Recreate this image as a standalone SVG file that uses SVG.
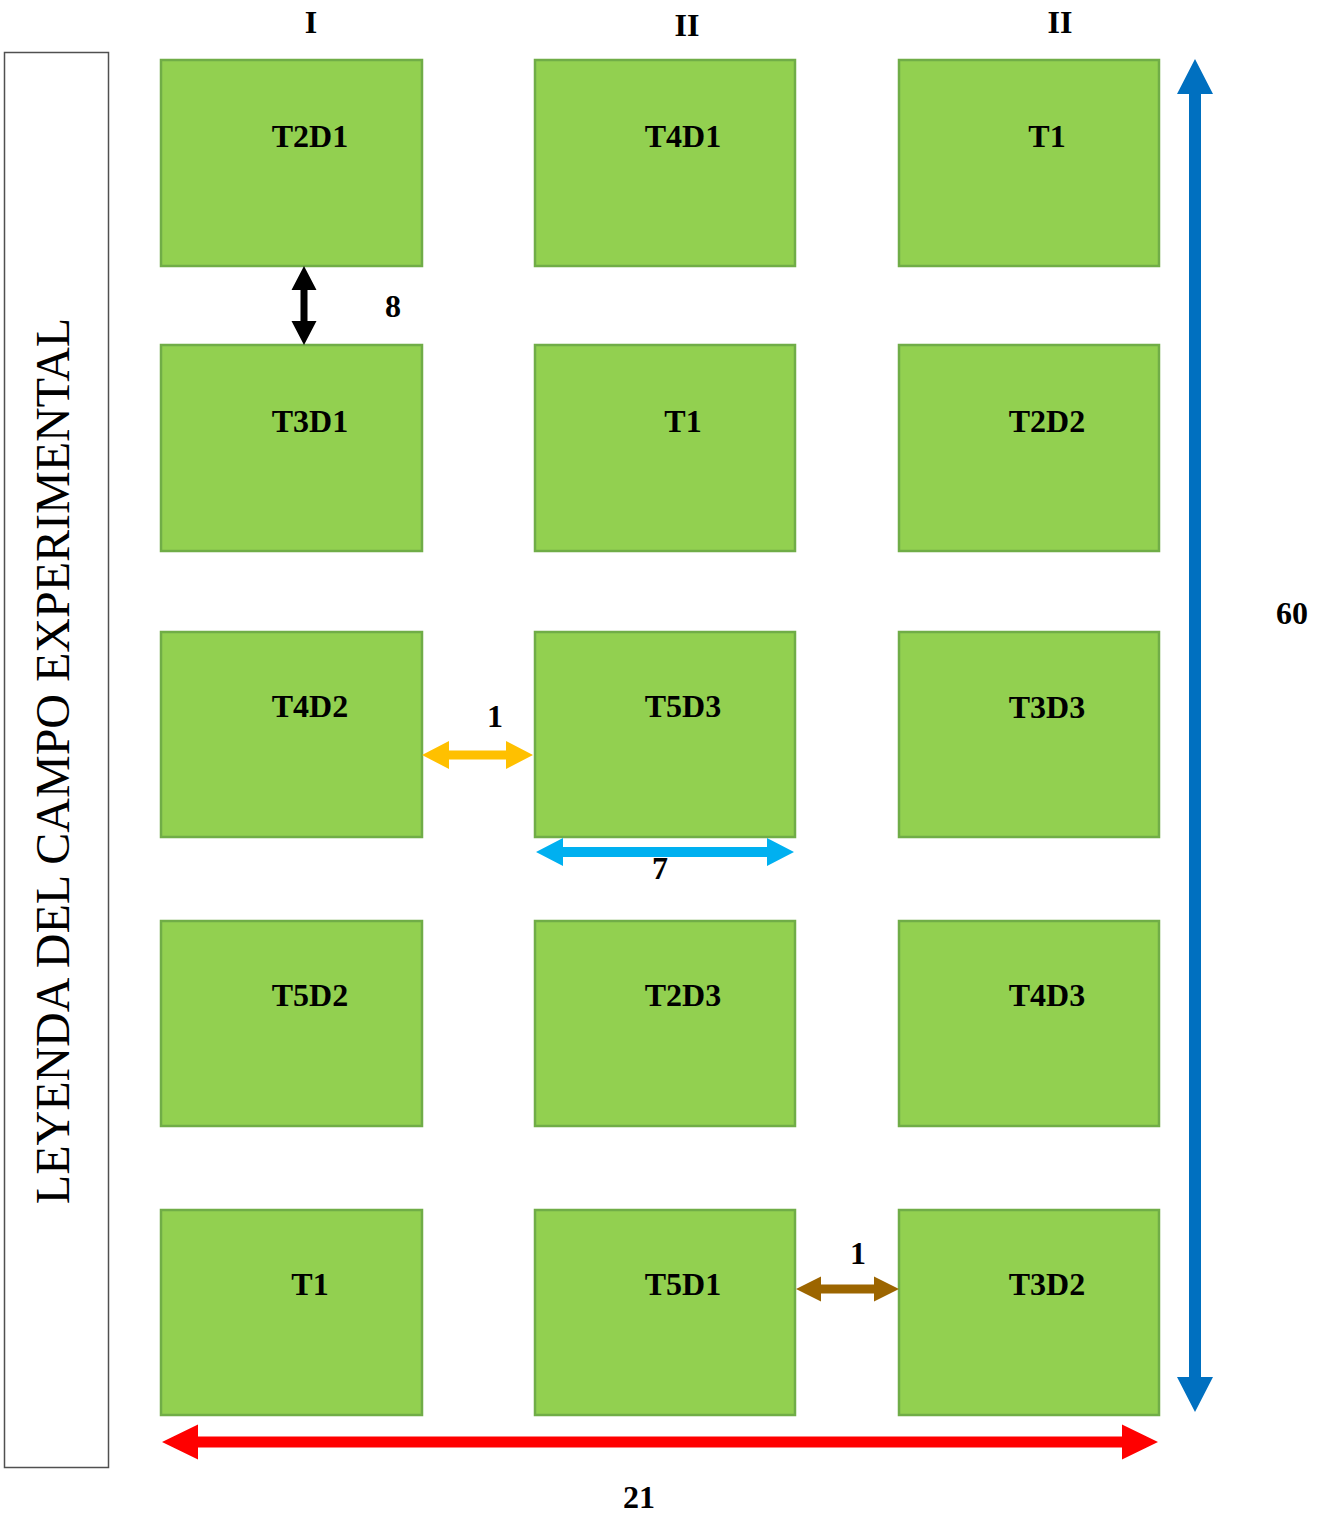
<svg xmlns="http://www.w3.org/2000/svg" width="1319" height="1513" viewBox="0 0 1319 1513">
<style>
.plot{fill:#92D050;stroke:#70AD47;stroke-width:2.5}
.lbl{font-family:"Liberation Serif",serif;font-weight:bold;font-size:32px;fill:#000;text-anchor:middle}
.leg{font-family:"Liberation Serif",serif;font-size:48px;fill:#000;text-anchor:middle}
</style>
<rect width="1319" height="1513" fill="#fff"/>
<g id="legend">
<rect x="4.5" y="52.5" width="104" height="1415" fill="#fff" stroke="#505050" stroke-width="1.5"/>
<text class="leg" transform="translate(69,761) rotate(-90)">LEYENDA DEL CAMPO EXPERIMENTAL</text>
</g>
<g id="headers">
<text class="lbl" x="311" y="33">I</text>
<text class="lbl" x="687" y="36">II</text>
<text class="lbl" x="1060" y="33">II</text>
</g>
<g id="p1"><rect class="plot" x="161" y="60" width="261" height="206"/><text class="lbl" x="310" y="147">T2D1</text></g>
<g id="p2"><rect class="plot" x="535" y="60" width="260" height="206"/><text class="lbl" x="683" y="147">T4D1</text></g>
<g id="p3"><rect class="plot" x="899" y="60" width="260" height="206"/><text class="lbl" x="1047" y="147">T1</text></g>
<g id="p4"><rect class="plot" x="161" y="345" width="261" height="206"/><text class="lbl" x="310" y="432">T3D1</text></g>
<g id="p5"><rect class="plot" x="535" y="345" width="260" height="206"/><text class="lbl" x="683" y="432">T1</text></g>
<g id="p6"><rect class="plot" x="899" y="345" width="260" height="206"/><text class="lbl" x="1047" y="432">T2D2</text></g>
<g id="p7"><rect class="plot" x="161" y="632" width="261" height="205"/><text class="lbl" x="310" y="717">T4D2</text></g>
<g id="p8"><rect class="plot" x="535" y="632" width="260" height="205"/><text class="lbl" x="683" y="717">T5D3</text></g>
<g id="p9"><rect class="plot" x="899" y="632" width="260" height="205"/><text class="lbl" x="1047" y="718">T3D3</text></g>
<g id="p10"><rect class="plot" x="161" y="921" width="261" height="205"/><text class="lbl" x="310" y="1006">T5D2</text></g>
<g id="p11"><rect class="plot" x="535" y="921" width="260" height="205"/><text class="lbl" x="683" y="1006">T2D3</text></g>
<g id="p12"><rect class="plot" x="899" y="921" width="260" height="205"/><text class="lbl" x="1047" y="1006">T4D3</text></g>
<g id="p13"><rect class="plot" x="161" y="1210" width="261" height="205"/><text class="lbl" x="310" y="1295">T1</text></g>
<g id="p14"><rect class="plot" x="535" y="1210" width="260" height="205"/><text class="lbl" x="683" y="1295">T5D1</text></g>
<g id="p15"><rect class="plot" x="899" y="1210" width="260" height="205"/><text class="lbl" x="1047" y="1295">T3D2</text></g>
<g id="connectors">
<polygon fill="#000" points="304,266 316.5,290 307.5,290 307.5,321 316.5,321 304,345 291.5,321 300.5,321 300.5,290 291.5,290"/>
<polygon fill="#FFC000" points="422,755 449,741 449,750.5 506,750.5 506,741 533,755 506,769 506,759.5 449,759.5 449,769"/>
<polygon fill="#00B0F0" points="536,852 563,838 563,847 767,847 767,838 794,852 767,866 767,857 563,857 563,866"/>
<polygon fill="#9C6500" points="796,1289 821,1276.5 821,1284.5 874,1284.5 874,1276.5 899,1289 874,1301.5 874,1293.5 821,1293.5 821,1301.5"/>
<polygon fill="#FF0000" points="162,1442 198,1424.5 198,1436.5 1122,1436.5 1122,1424.5 1158,1442 1122,1459.5 1122,1447.5 198,1447.5 198,1459.5"/>
<polygon fill="#0070C0" points="1195,59 1213,94 1201,94 1201,1377 1213,1377 1195,1412 1177,1377 1189,1377 1189,94 1177,94"/>
</g>
<g id="dims">
<text class="lbl" x="393" y="317">8</text>
<text class="lbl" x="495" y="727">1</text>
<text class="lbl" x="660" y="879">7</text>
<text class="lbl" x="858" y="1264">1</text>
<text class="lbl" x="639" y="1508">21</text>
<text class="lbl" x="1292" y="624">60</text>
</g>
</svg>
